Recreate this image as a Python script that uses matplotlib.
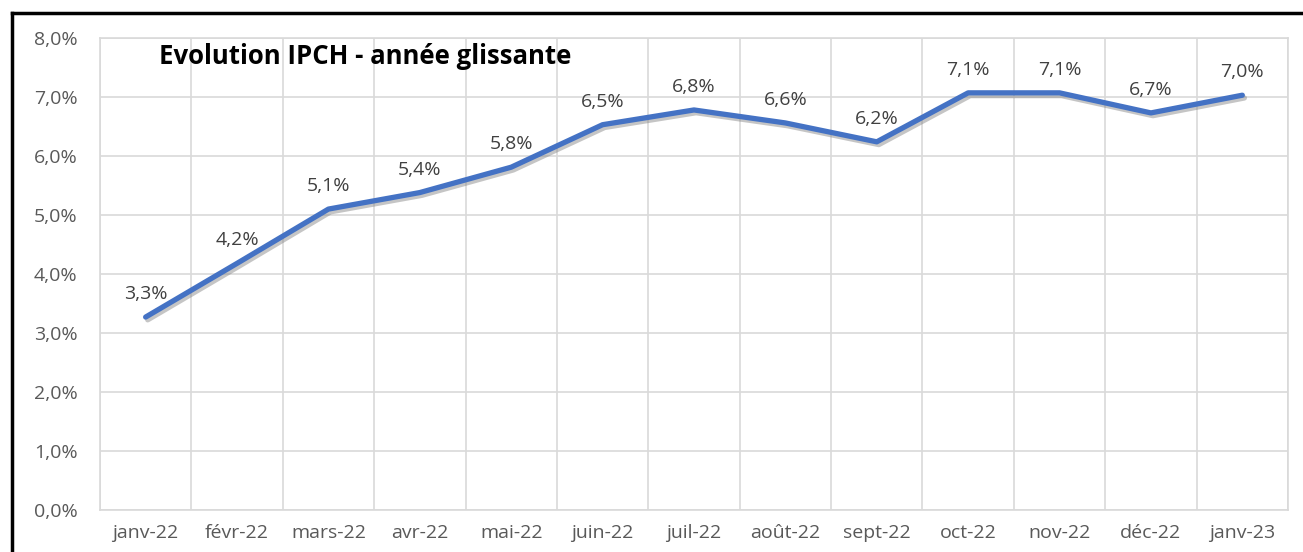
import matplotlib.pyplot as plt
import matplotlib.patheffects as pe
from matplotlib.lines import Line2D

# données
mois = ["janv-22", "févr-22", "mars-22", "avr-22", "mai-22", "juin-22", "juil-22",
        "août-22", "sept-22", "oct-22", "nov-22", "déc-22", "janv-23"]
ipch = [3.27, 4.18, 5.10, 5.38, 5.81, 6.53, 6.78, 6.56, 6.24, 7.07, 7.07, 6.73, 7.03]
y_ticks = [0, 1, 2, 3, 4, 5, 6, 7, 8]

plt.rcParams['font.family'] = ['Open Sans', 'DejaVu Sans']

fig = plt.figure(figsize=(13.03, 5.52), dpi=100)
ax = fig.add_axes([0.0767, 0.0761, 0.9118, 0.8551])

x = list(range(len(mois)))
ax.plot(x, ipch, color="#4472C4", linewidth=3.8, solid_capstyle="round",
        path_effects=[pe.SimpleLineShadow(offset=(1.5, -2), shadow_color="gray", alpha=0.45),
                      pe.Normal()], zorder=3)

for xi, v in zip(x, ipch):
    ax.annotate(f"{v:.1f}%".replace(".", ","), (xi, v), xytext=(0, 10),
                textcoords="offset points", ha="center", va="bottom",
                fontsize=14, color="#404040")

ax.set_xlim(-0.5, len(mois) - 0.5)
ax.set_ylim(0, 8)
ax.set_yticks(y_ticks)
ax.set_yticklabels([f"{t},0%" for t in y_ticks])
ax.set_xticks(x)
ax.set_xticklabels(mois)
ax.set_xticks([i - 0.5 for i in range(len(mois) + 1)], minor=True)
ax.grid(True, axis="y", color="#D9D9D9", linewidth=1.2)
ax.grid(True, axis="x", which="minor", color="#D9D9D9", linewidth=1.2)
ax.tick_params(axis="both", which="both", length=0, colors="#595959", labelsize=14)
ax.tick_params(axis="x", pad=10)
ax.tick_params(axis="y", pad=16)
for s in ax.spines.values():
    s.set_color("#D9D9D9")
    s.set_linewidth(1.2)

ax.text(0.05, 0.96, "Evolution IPCH - année glissante", transform=ax.transAxes,
        fontsize=18.5, fontweight="bold", color="black", va="center", ha="left")

# cadre noir (haut et gauche)
fig.add_artist(Line2D([0.0092, 1.0], [0.976, 0.976], transform=fig.transFigure,
                      color="black", linewidth=2.5))
fig.add_artist(Line2D([0.0092, 0.0092], [0.0, 0.976], transform=fig.transFigure,
                      color="black", linewidth=2.5))

fig.savefig("out.png", dpi=100)
